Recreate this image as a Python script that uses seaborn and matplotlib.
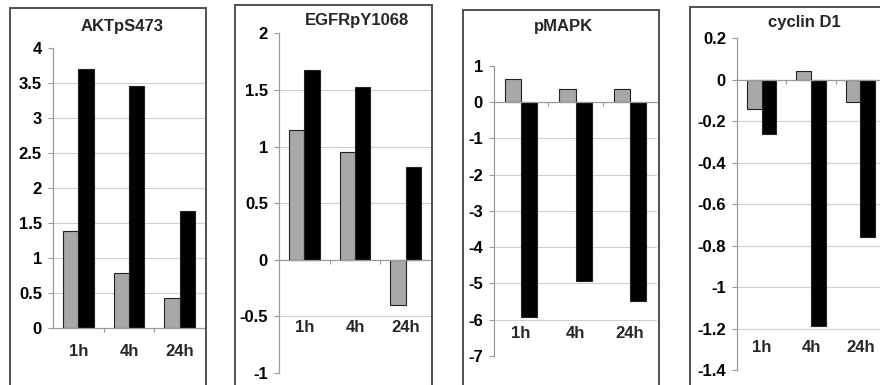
import numpy as np
import pandas as pd
import matplotlib
matplotlib.use("Agg")
import matplotlib.pyplot as plt
import matplotlib.transforms as mtransforms
from matplotlib.patches import Rectangle
import seaborn as sns

# ---------------- data ----------------
times = ["1h", "4h", "24h"]
series_names = ["Series 1", "Series 2"]

titles = ["AKTpS473", "EGFRpY1068", "pMAPK", "cyclin D1"]

akt_gray = [1.39, 0.79, 0.44]
akt_black = [3.70, 3.46, 1.68]

egfr_gray = [1.15, 0.95, -0.40]
egfr_black = [1.68, 1.53, 0.82]

pmapk_gray = [0.63, 0.35, 0.35]
pmapk_black = [-5.93, -4.93, -5.48]

cyclin_gray = [-0.14, 0.04, -0.105]
cyclin_black = [-0.26, -1.19, -0.76]

akt_ticks = [0, 0.5, 1, 1.5, 2, 2.5, 3, 3.5, 4]
egfr_ticks = [-1, -0.5, 0, 0.5, 1, 1.5, 2]
pmapk_ticks = [-7, -6, -5, -4, -3, -2, -1, 0, 1]
cyclin_ticks = [-1.4, -1.2, -1, -0.8, -0.6, -0.4, -0.2, 0, 0.2]

# ---------------- style ----------------
sns.set_theme(style="white")
plt.rcParams["font.family"] = ["Liberation Sans", "DejaVu Sans"]
plt.rcParams["font.weight"] = "bold"

W, H = 880, 385
fig = plt.figure(figsize=(W / 100, H / 100), dpi=100)
fig.patch.set_facecolor("white")

GRAY = "#a8a8a8"
BLACK = "#000000"
AXIS_GRAY = "#9a9a9a"
GRID_GRAY = "#cfcfcf"
FS = 12


def px_rect(left, right, top, bottom):
    return [left / W, 1 - bottom / H, (right - left) / W, (bottom - top) / H]


panels = [
    dict(gray=akt_gray, black=akt_black, ticks=akt_ticks,
         rect=px_rect(53, 205, 48.3, 328.3), label_y=352,
         title_xy=(122, 27), frame=(10, 8, 206)),
    dict(gray=egfr_gray, black=egfr_black, ticks=egfr_ticks,
         rect=px_rect(279, 431, 33.3, 373), label_y=328,
         title_xy=(356.5, 20), frame=(235, 5, 432)),
    dict(gray=pmapk_gray, black=pmapk_black, ticks=pmapk_ticks,
         rect=px_rect(494, 657, 65.7, 356), label_y=333,
         title_xy=(563, 27), frame=(463, 10, 659)),
    dict(gray=cyclin_gray, black=cyclin_black, ticks=cyclin_ticks,
         rect=px_rect(737, 885, 38.3, 370), label_y=347,
         title_xy=(804, 22), frame=(690, 7, 900)),
]


def fmt(v):
    s = f"{round(v, 2):g}"
    return "0" if s == "-0" else s


for p, title in zip(panels, titles):
    # frame box around each chart
    fl, ft, fr = p["frame"]
    fig.patches.append(Rectangle((fl / W, -0.1), (fr - fl) / W, 1.1 - ft / H,
                                 transform=fig.transFigure, fill=False,
                                 edgecolor="#505050", linewidth=1.4,
                                 clip_on=False))

    ax = fig.add_axes(p["rect"])
    ax.set_facecolor("none")
    df = pd.DataFrame({
        "time": times * 2,
        "value": list(p["gray"]) + list(p["black"]),
        "series": [series_names[0]] * 3 + [series_names[1]] * 3,
    })
    ticks = p["ticks"]
    # interior grid lines
    for t in ticks[1:-1]:
        if abs(t) > 1e-9:
            ax.axhline(t, color=GRID_GRAY, linewidth=0.8, zorder=0)

    sns.barplot(data=df, x="time", y="value", hue="series",
                hue_order=series_names, order=times,
                palette=[GRAY, BLACK], width=0.6, gap=0,
                edgecolor="#222222", linewidth=0.8, legend=False,
                errorbar=None, ax=ax, zorder=2)

    ax.set_xlim(-0.5, 2.5)
    ax.set_ylim(ticks[0], ticks[-1])
    ax.set_yticks(ticks)
    ax.set_yticklabels([fmt(t) for t in ticks], fontsize=FS, fontweight="bold",
                       color="black")
    ax.tick_params(axis="y", direction="out", length=3.5, width=0.8,
                   color=AXIS_GRAY, pad=4.5, left=True)

    # zero line with ticks between categories
    ax.spines["bottom"].set_position(("data", 0))
    ax.spines["bottom"].set_color(AXIS_GRAY)
    ax.spines["bottom"].set_linewidth(0.9)
    ax.spines["bottom"].set_zorder(3)
    ax.set_xticks([0.5, 1.5])
    ax.set_xticklabels(["", ""])
    ax.tick_params(axis="x", direction="out", length=3, width=0.8,
                   color=AXIS_GRAY, bottom=True)
    ax.spines["left"].set_color(AXIS_GRAY)
    ax.spines["left"].set_linewidth(0.9)
    ax.spines["top"].set_visible(False)
    ax.spines["right"].set_visible(False)
    ax.set_xlabel("")
    ax.set_ylabel("")
    ax.grid(False)

    # category labels at fixed position below the bars
    tr = mtransforms.blended_transform_factory(ax.transData, fig.transFigure)
    for i, t in enumerate(times):
        ax.text(i, 1 - p["label_y"] / H, t, transform=tr, ha="center",
                va="center", fontsize=FS, fontweight="bold", clip_on=False)

    tx, ty = p["title_xy"]
    fig.text(tx / W, 1 - ty / H, title, ha="center", va="center",
             fontsize=FS, fontweight="bold")

fig.savefig("out.png", dpi=100, facecolor="white")
